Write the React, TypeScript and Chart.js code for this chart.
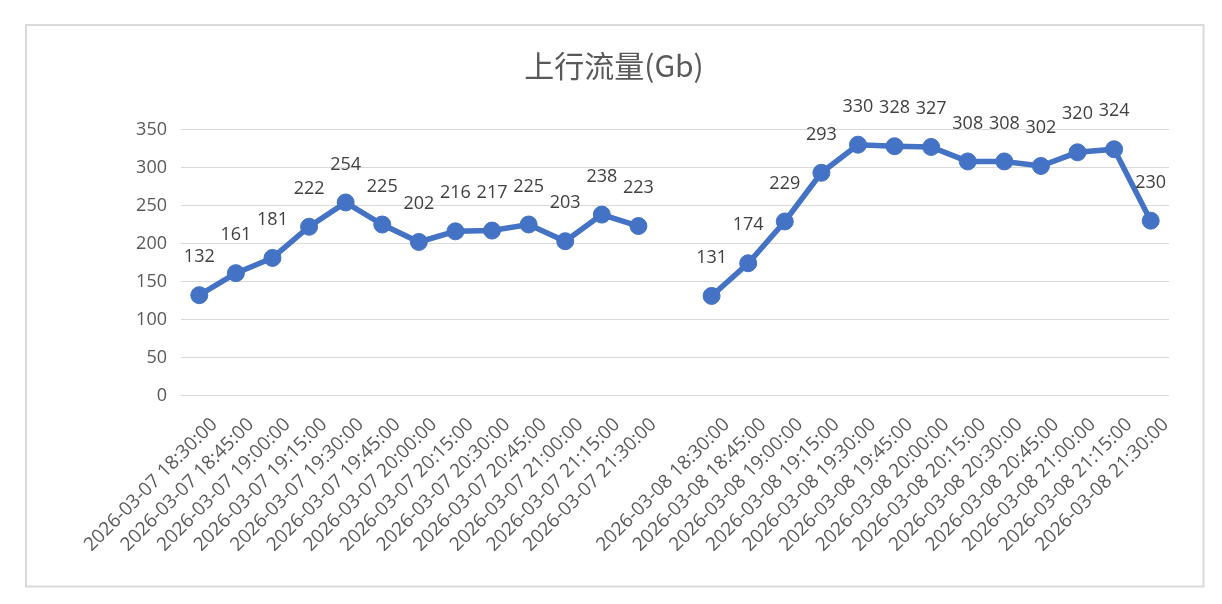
import React, { useEffect, useRef } from "react";
import { Chart, registerables } from "chart.js";

Chart.register(...registerables);

const day1Times = ["18:30:00", "18:45:00", "19:00:00", "19:15:00", "19:30:00", "19:45:00", "20:00:00", "20:15:00", "20:30:00", "20:45:00", "21:00:00", "21:15:00", "21:30:00"];
const day1Labels = day1Times.map((t) => "2026-03-07 " + t);
const day2Labels = day1Times.map((t) => "2026-03-08 " + t);
const categories = [...day1Labels, "", ...day2Labels];

const day1Values = [132, 161, 181, 222, 254, 225, 202, 216, 217, 225, 203, 238, 223];
const day2Values = [131, 174, 229, 293, 330, 328, 327, 308, 308, 302, 320, 324, 230];
const seriesValues: (number | null)[] = [...day1Values, null, ...day2Values];

const titleText = "上行流量(Gb)";
const yTicks = [0, 50, 100, 150, 200, 250, 300, 350];

const FONT = "'Open Sans', 'Noto Sans CJK SC', sans-serif";

const framePlugin = {
  id: "frame",
  beforeDraw(chart: any) {
    const ctx = chart.ctx;
    ctx.save();
    ctx.fillStyle = "#ffffff";
    ctx.fillRect(0, 0, chart.width, chart.height);
    ctx.strokeStyle = "#D9D9D9";
    ctx.lineWidth = 2;
    ctx.strokeRect(26, 25, 1177.5, 561.5);
    ctx.fillStyle = "#595959";
    ctx.font = "30px 'Noto Sans CJK SC', 'Open Sans', sans-serif";
    ctx.textAlign = "center";
    ctx.textBaseline = "middle";
    ctx.fillText(titleText, 614, 66);
    ctx.restore();
  },
};

const dataLabelPlugin = {
  id: "dataLabels",
  afterDatasetsDraw(chart: any) {
    const ctx = chart.ctx;
    const meta = chart.getDatasetMeta(0);
    const data = chart.data.datasets[0].data;
    ctx.save();
    ctx.font = "18px " + FONT;
    ctx.fillStyle = "#404040";
    ctx.textAlign = "center";
    ctx.textBaseline = "middle";
    meta.data.forEach((pt: any, i: number) => {
      const v = data[i];
      if (v === null || v === undefined) return;
      ctx.fillText(String(v), pt.x, pt.y - 38);
    });
    ctx.restore();
  },
};

export default function App() {
  const ref = useRef<HTMLCanvasElement | null>(null);
  useEffect(() => {
    if (!ref.current) return;
    const chart = new Chart(ref.current, {
      type: "line",
      data: {
        labels: categories,
        datasets: [
          {
            data: seriesValues,
            borderColor: "#4472C4",
            backgroundColor: "#4472C4",
            borderWidth: 5.5,
            pointRadius: 8.5,
            pointHoverRadius: 8.5,
            pointBackgroundColor: "#4472C4",
            pointBorderColor: "#4472C4",
            pointBorderWidth: 1,
            spanGaps: false,
            tension: 0,
          },
        ],
      },
      options: {
        animation: false,
        responsive: false,
        maintainAspectRatio: false,
        events: [],
        layout: { padding: { left: 0, right: 53, top: 129.5, bottom: 0 } },
        plugins: {
          legend: { display: false },
          tooltip: { enabled: false },
          title: { display: false },
        },
        scales: {
          x: {
            offset: true,
            grid: { display: false, drawTicks: false },
            border: { display: false },
            ticks: {
              autoSkip: false,
              maxRotation: 45,
              minRotation: 45,
              color: "#595959",
              font: { family: FONT, size: 19 },
              padding: 18,
              labelOffset: 15,
            },
            afterFit(scale: any) {
              scale.height = 208.5;
            },
          },
          y: {
            min: 0,
            max: 350,
            afterBuildTicks(scale: any) {
              scale.ticks = yTicks.map((v) => ({ value: v }));
            },
            grid: { color: "#D9D9D9", lineWidth: 1, drawTicks: false },
            border: { display: false },
            ticks: {
              color: "#595959",
              font: { family: FONT, size: 18 },
              padding: 14,
            },
            afterFit(scale: any) {
              scale.width = 181;
            },
          },
        },
      },
      plugins: [framePlugin, dataLabelPlugin],
    });
    return () => chart.destroy();
  }, []);
  return (
    <div style={{ position: "absolute", left: 0, top: 0, width: 1222, height: 604 }}>
      <canvas ref={ref} width={1222} height={604} style={{ width: 1222, height: 604, display: "block" }} />
    </div>
  );
}
